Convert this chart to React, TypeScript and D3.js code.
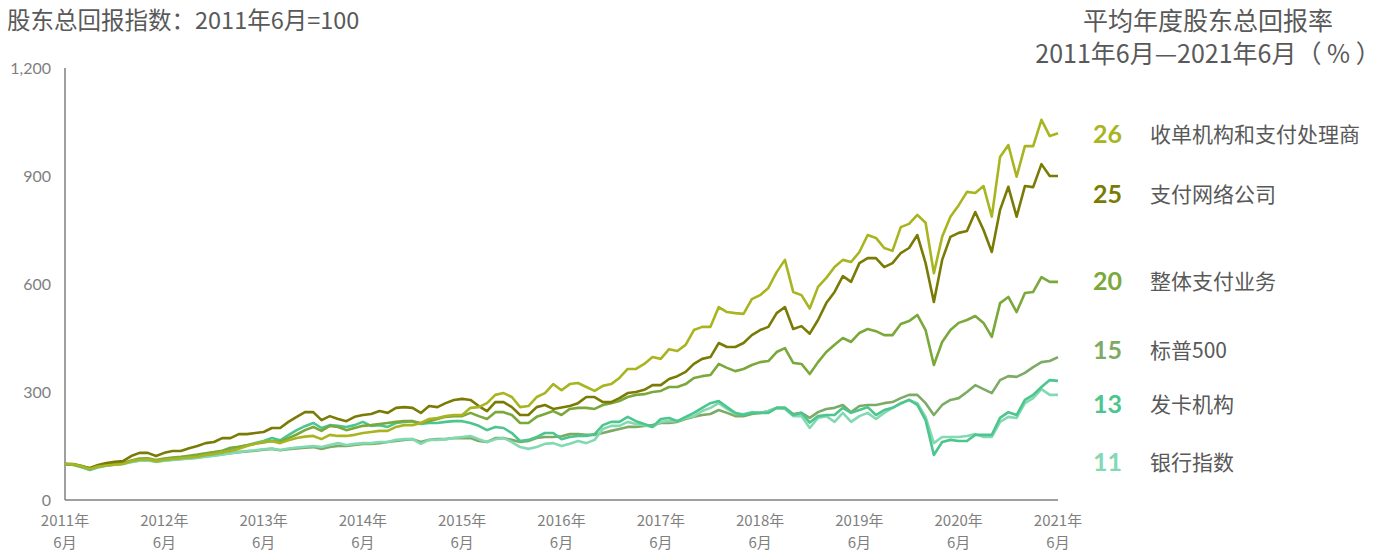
import React from "react";
import * as d3 from "d3";

// month index 0 = 2011年6月, 120 = 2021年6月
const yearLabels = ["2011年", "2012年", "2013年", "2014年", "2015年", "2016年", "2017年", "2018年", "2019年", "2020年", "2021年"];
const monthLabel = "6月";
const yTicks = [0, 300, 600, 900, 1200];

const seriesNames = ["收单机构和支付处理商", "支付网络公司", "整体支付业务", "标普500", "发卡机构", "银行指数"];
const seriesRates = [26, 25, 20, 15, 13, 11];
const seriesColors = ["#a9b520", "#7a7b05", "#7aa83a", "#7dab66", "#4cc58e", "#82d9b2"];

const acquirers = [
  100, 99, 94, 86, 93, 96, 98, 100, 108, 112, 113,
  108, 112, 114, 116, 118, 120, 125, 128, 133, 136,
  142, 150, 156, 162, 163, 158, 166, 172, 176, 178,
  169, 181, 178, 178, 181, 186, 189, 192, 192, 203,
  208, 208, 214, 225, 228, 233, 236, 236, 256, 258,
  269, 292, 297, 286, 258, 261, 286, 297, 322, 305,
  322, 325, 314, 303, 317, 322, 339, 364, 364, 378,
  397, 392, 419, 414, 431, 472, 481, 481, 536, 522,
  519, 517, 558, 569, 589, 633, 667, 578, 569, 532,
  592, 617, 647, 667, 661, 689, 736, 728, 700, 692,
  758, 767, 792, 770, 630, 731, 787, 819, 856, 853,
  872, 787, 953, 986, 898, 983, 983, 1056, 1011, 1019,
];

const networks = [
  100, 100, 94, 89, 97, 103, 106, 108, 122, 131, 131,
  122, 131, 136, 136, 144, 150, 158, 161, 172, 172,
  183, 183, 186, 189, 200, 200, 217, 231, 244, 244,
  222, 233, 225, 219, 231, 236, 239, 247, 242, 256,
  258, 256, 242, 261, 258, 269, 278, 281, 278, 261,
  247, 272, 272, 258, 236, 236, 258, 264, 253, 257,
  261, 269, 286, 286, 272, 272, 283, 297, 300, 306,
  319, 319, 336, 344, 356, 378, 392, 397, 436, 425,
  425, 436, 458, 472, 481, 519, 536, 475, 483, 462,
  500, 547, 578, 622, 606, 658, 672, 672, 647, 658,
  686, 700, 736, 658, 550, 667, 731, 742, 747, 800,
  750, 689, 806, 870, 787, 872, 869, 933, 900, 900,
];

const overall = [
  100, 99, 95, 87, 95, 98, 101, 103, 110, 115, 116,
  111, 115, 118, 120, 123, 126, 130, 133, 137, 145,
  148, 152, 156, 160, 164, 162, 172, 182, 194, 203,
  192, 206, 203, 194, 200, 206, 208, 211, 214, 217,
  219, 219, 214, 219, 225, 231, 233, 233, 242, 233,
  225, 244, 244, 236, 214, 214, 231, 239, 247, 236,
  253, 256, 256, 253, 264, 269, 275, 286, 292, 294,
  300, 303, 314, 314, 322, 339, 344, 347, 378, 367,
  358, 364, 375, 383, 386, 411, 422, 381, 378, 350,
  383, 411, 431, 450, 439, 464, 475, 469, 458, 458,
  489, 497, 514, 472, 375, 439, 472, 492, 500, 511,
  492, 453, 547, 564, 522, 575, 578, 619, 606, 606,
];

const sp500 = [
  100, 98, 93, 86, 93, 97, 100, 102, 106, 110, 111,
  107, 110, 112, 114, 116, 118, 121, 124, 127, 130,
  133, 135, 137, 140, 142, 138, 141, 143, 145, 147,
  142, 147, 150, 150, 153, 156, 156, 158, 161, 164,
  167, 169, 161, 167, 169, 169, 172, 172, 172, 164,
  161, 172, 172, 167, 161, 164, 172, 175, 175, 177,
  183, 183, 181, 181, 186, 192, 197, 203, 203, 206,
  208, 214, 214, 217, 225, 231, 236, 239, 250, 242,
  233, 233, 239, 242, 247, 256, 256, 239, 242, 228,
  244, 253, 256, 264, 244, 261, 264, 264, 269, 272,
  283, 292, 292, 269, 236, 264, 278, 283, 300, 319,
  308, 297, 333, 344, 342, 353, 369, 383, 386, 397,
];

const issuers = [
  100, 98, 92, 84, 92, 96, 99, 101, 108, 113, 113,
  108, 112, 115, 117, 119, 121, 125, 128, 132, 142,
  147, 152, 158, 164, 172, 166, 180, 194, 205, 214,
  200, 208, 206, 203, 208, 217, 206, 208, 203, 214,
  217, 219, 211, 214, 214, 217, 219, 219, 214, 206,
  194, 203, 200, 186, 164, 167, 175, 186, 186, 169,
  175, 178, 178, 183, 208, 217, 217, 231, 219, 211,
  203, 225, 228, 219, 231, 242, 256, 269, 275, 258,
  242, 236, 242, 242, 242, 256, 256, 236, 242, 215,
  233, 236, 236, 256, 242, 250, 258, 236, 250, 256,
  269, 278, 264, 222, 125, 161, 167, 164, 164, 181,
  181, 181, 228, 244, 236, 278, 292, 314, 333, 331,
];

const banks = [
  100, 97, 91, 83, 90, 95, 98, 100, 105, 109, 110,
  106, 109, 111, 113, 115, 117, 120, 123, 126, 130,
  133, 136, 138, 141, 143, 139, 143, 146, 148, 150,
  147, 153, 158, 153, 156, 158, 158, 161, 161, 167,
  169, 169, 156, 167, 167, 169, 172, 175, 178, 169,
  161, 169, 172, 161, 147, 142, 147, 156, 158, 150,
  156, 164, 158, 167, 197, 206, 206, 217, 211, 208,
  203, 217, 219, 219, 228, 233, 247, 256, 269, 253,
  239, 239, 244, 242, 247, 256, 253, 233, 233, 200,
  228, 233, 217, 242, 217, 233, 242, 225, 242, 256,
  267, 278, 269, 231, 158, 175, 175, 175, 178, 183,
  175, 175, 217, 231, 228, 269, 283, 308, 292, 292,
];

const seriesValues = [acquirers, networks, overall, sp500, issuers, banks];

// layout
const W = 1390;
const H = 554;
const plot = { left: 65, right: 1058, top: 68, bottom: 500 };
const legendBaselines = [143, 203, 290, 359, 413, 471];
const textGray = "#595959";
const axisGray = "#7f7f7f";
const cjk = "'Noto Sans CJK SC', 'Noto Sans', sans-serif";
const latin = "Lato, 'Noto Sans CJK SC', sans-serif";

export default function App() {
  const x = d3.scaleLinear().domain([0, 120]).range([plot.left, plot.right]);
  const y = d3.scaleLinear().domain([0, 1200]).range([plot.bottom, plot.top]);
  const line = d3
    .line<number>()
    .x((_, i) => x(i))
    .y((d) => y(d));

  // draw order: lower group first so the top lines sit above
  const drawOrder = [3, 5, 4, 2, 1, 0];

  return (
    <svg
      width={W}
      height={H}
      style={{ position: "absolute", left: 0, top: 0, background: "#fff" }}
    >
      <text x={7} y={29} fontFamily={cjk} fontSize={23.5} fill={textGray}>
        股东总回报指数：2011年6月=100
      </text>

      <text x={1208} y={30} textAnchor="middle" fontFamily={cjk} fontSize={25} fill={textGray}>
        平均年度股东总回报率
      </text>
      <text x={1208} y={63} textAnchor="middle" fontFamily={cjk} fontSize={25} fill={textGray}>
        2011年6月—2021年6月（ % ）
      </text>

      {/* y axis */}
      <line x1={plot.left} x2={plot.left} y1={plot.top} y2={plot.bottom} stroke={axisGray} strokeWidth={1.5} />
      {yTicks.map((t) => (
        <text
          key={t}
          x={51}
          y={y(t)}
          dy="0.35em"
          textAnchor="end"
          fontFamily={latin}
          fontSize={16}
          fill={axisGray}
        >
          {d3.format(",")(t)}
        </text>
      ))}

      {/* x axis */}
      <line x1={plot.left} x2={plot.right} y1={plot.bottom} y2={plot.bottom} stroke={axisGray} strokeWidth={1.5} />
      {yearLabels.map((lab, k) => (
        <g key={lab} transform={`translate(${x(k * 12)},0)`}>
          <text y={526} textAnchor="middle" fontFamily={cjk} fontSize={15} fill={axisGray}>
            {lab}
          </text>
          <text y={548} textAnchor="middle" fontFamily={cjk} fontSize={15} fill={axisGray}>
            {monthLabel}
          </text>
        </g>
      ))}

      {/* lines */}
      {drawOrder.map((s) => (
        <path
          key={seriesNames[s]}
          d={line(seriesValues[s]) || ""}
          fill="none"
          stroke={seriesColors[s]}
          strokeWidth={2.6}
          strokeLinejoin="round"
        />
      ))}

      {/* legend */}
      {seriesNames.map((name, s) => (
        <g key={name}>
          <text
            x={1093}
            y={legendBaselines[s]}
            fontFamily={latin}
            fontWeight="bold"
            fontSize={25}
            fill={seriesColors[s]}
          >
            {seriesRates[s]}
          </text>
          <text x={1150} y={legendBaselines[s] - 1} fontFamily={cjk} fontSize={21} fill={textGray}>
            {name}
          </text>
        </g>
      ))}
    </svg>
  );
}
